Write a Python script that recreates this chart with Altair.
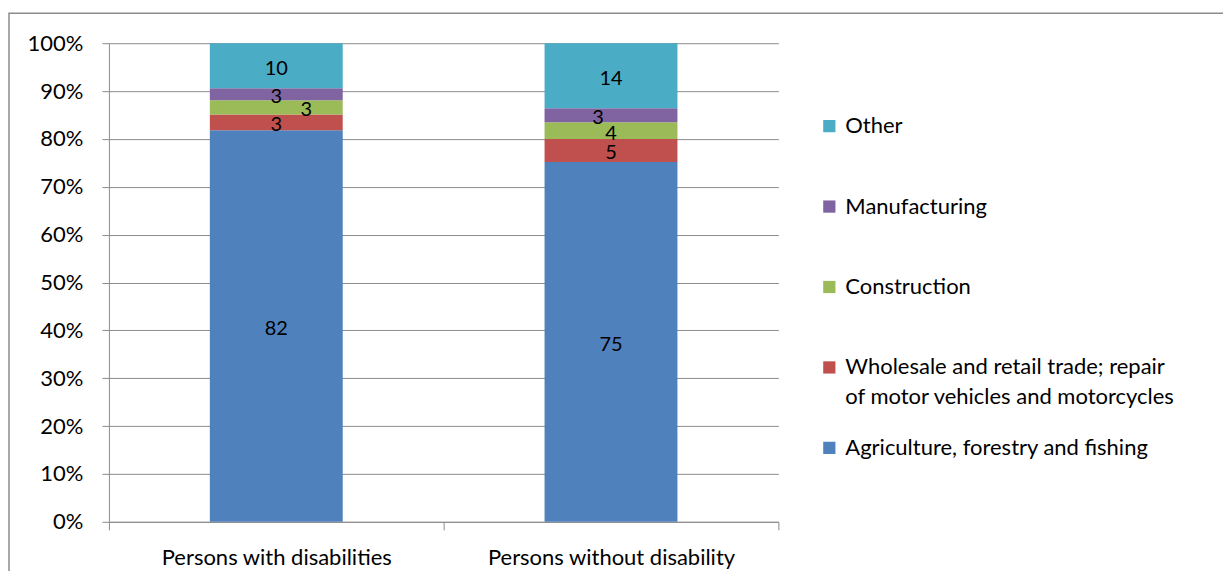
import altair as alt
import pandas as pd

groups = ["Persons with disabilities", "Persons without disability"]
categories = [
    "Agriculture, forestry and fishing",
    "Wholesale and retail trade; repair of motor vehicles and motorcycles",
    "Construction",
    "Manufacturing",
    "Other",
]
with_dis = [81.8, 3.3, 3.0, 2.5, 9.4]
without_dis = [75.2, 4.8, 3.5, 2.9, 13.6]
labels_with = ["82", "3", "3", "3", "10"]
labels_without = ["75", "5", "4", "3", "14"]
colors = ["#4F81BD", "#C0504D", "#9BBB59", "#8064A2", "#4BACC6"]
wholesale_line1 = "Wholesale and retail trade; repair"
wholesale_line2 = "of motor vehicles and motorcycles"

rows = []
for g, vals, labs in [(groups[0], with_dis, labels_with), (groups[1], without_dis, labels_without)]:
    for i, (c, v, l) in enumerate(zip(categories, vals, labs)):
        rows.append({"group": g, "category": c, "value": v, "label": l, "order": i})
df = pd.DataFrame(rows)

FONT = "Lato"
FS = 22
LABEL_FS = 20
GRID = "#8c8c8c"

legend_order = list(reversed(categories))

base = alt.Chart(df)

x_enc = alt.X(
    "group:N",
    sort=groups,
    title=None,
    scale=alt.Scale(paddingInner=0, paddingOuter=0),
    axis=alt.Axis(
        labelAngle=0,
        tickBand="extent",
        tickSize=8,
        tickColor=GRID,
        domainColor=GRID,
        labelFontSize=FS,
        labelFont=FONT,
        labelColor="#000000",
        labelPadding=18,
        labelLimit=0,
    ),
)

bars = base.mark_bar(size=133).encode(
    x=x_enc,
    y=alt.Y(
        "value:Q",
        stack="normalize",
        title=None,
        scale=alt.Scale(domain=[0, 1]),
        axis=alt.Axis(
            format=".0%",
            values=[i / 10 for i in range(11)],
            grid=True,
            gridColor=GRID,
            gridWidth=1,
            tickColor=GRID,
            tickSize=7,
            domainColor=GRID,
            labelFontSize=FS,
            labelFont=FONT,
            labelColor="#000000",
            labelPadding=19,
        ),
    ),
    color=alt.Color(
        "category:N",
        sort=categories,
        scale=alt.Scale(domain=categories, range=colors),
        legend=alt.Legend(
            title=None,
            orient="none",
            legendX=710,
            legendY=72,
            values=legend_order,
            symbolType="square",
            symbolSize=150,
            symbolStrokeWidth=0,
            labelFont=FONT,
            labelFontSize=FS,
            labelColor="#000000",
            labelLimit=500,
            rowPadding=58.5,
            labelOffset=5,
            labelExpr=f"datum.label == '{categories[1]}' ? '{wholesale_line1}' : datum.label",
        ),
    ),
    order=alt.Order("order:Q", sort="ascending"),
)


def text_layer(dx, filt):
    return (
        base.transform_stack(
            stack="value", groupby=["group"], sort=[alt.SortField("order")],
            offset="normalize", as_=["v0", "v1"],
        )
        .transform_calculate(mid="(datum.v0 + datum.v1) / 2")
        .transform_filter(filt)
        .mark_text(font=FONT, fontSize=LABEL_FS, color="#000000", dx=dx, dy=3, baseline="middle")
        .encode(x=alt.X("group:N", sort=groups), y=alt.Y("mid:Q"), text="label:N")
    )


special1 = "datum.group == 'Persons with disabilities' && datum.category == 'Construction'"
special2 = "datum.group == 'Persons without disability' && datum.category == 'Manufacturing'"
texts_main = text_layer(0, f"!({special1}) && !({special2})")
texts_s1 = text_layer(30, special1)
texts_s2 = text_layer(-13, special2)

legend_line2 = alt.Chart(pd.DataFrame({"t": [wholesale_line2]})).mark_text(
    font=FONT, fontSize=FS, color="#000000", align="left", baseline="middle"
).encode(x=alt.value(737), y=alt.value(354), text="t:N")

border = alt.Chart(pd.DataFrame({"a": [0]})).mark_rect(
    fill=None, stroke="#8c8c8c", strokeWidth=1.5
).encode(
    x=alt.value(-100), x2=alt.value(1200), y=alt.value(-30), y2=alt.value(600)
)

chart = (
    alt.layer(bars, texts_main, texts_s1, texts_s2, legend_line2, border)
    .properties(
        width=670,
        height=479,
        autosize=alt.AutoSizeParams(type="none"),
        padding={"left": 101, "top": 35, "right": 445, "bottom": 49},
    )
    .configure_view(stroke=None)
)

chart.save("out.html", embed_options={"renderer": "svg", "actions": False})
